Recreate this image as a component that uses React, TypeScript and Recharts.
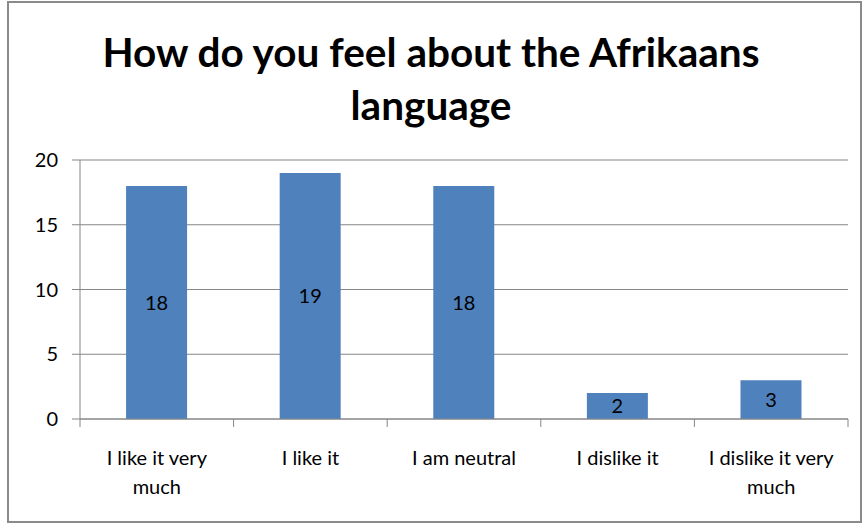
import React from 'react';
import { BarChart, Bar, XAxis, YAxis, CartesianGrid, LabelList } from 'recharts';

const categories = ['I like it very much', 'I like it', 'I am neutral', 'I dislike it', 'I dislike it very much'];
const responses = [18, 19, 18, 2, 3];
const yTicks = [0, 5, 10, 15, 20];
const titleLines = ['How do you feel about the Afrikaans', 'language'];

const data = categories.map((c, i) => ({ category: c, value: responses[i] }));

const FONT = 'Lato, "Open Sans", sans-serif';
const GRID = '#868686';

// wrap long labels: last word on its own line when the label is long
const wrapLabel = (s: string): string[] => {
  const w = s.split(' ');
  if (w.length > 4) return [w.slice(0, -1).join(' '), w[w.length - 1]];
  return [s];
};

const CategoryTick = (props: any) => {
  const { x, y, payload, index, visibleTicksCount, width } = props;
  const n = visibleTicksCount || categories.length;
  const off = payload && payload.offset ? payload.offset : width / n / 2;
  const lines = wrapLabel(String(payload.value));
  return (
    <g>
      <line x1={x - off} x2={x - off} y1={y} y2={y + 8} stroke={GRID} />
      {index === n - 1 && <line x1={x + off} x2={x + off} y1={y} y2={y + 8} stroke={GRID} />}
      <text x={x} y={y + 46} textAnchor="middle" fontSize={20} fontFamily={FONT} fill="#000">
        {lines.map((l, i) => (
          <tspan key={i} x={x} dy={i === 0 ? 0 : 29}>
            {l}
          </tspan>
        ))}
      </text>
    </g>
  );
};

export default function App() {
  return (
    <div style={{ position: 'absolute', left: 0, top: 0, width: 862, height: 524, background: '#fff', fontFamily: FONT }}>
      <div
        style={{
          position: 'absolute',
          left: 7,
          top: 1,
          width: 851,
          height: 518,
          border: '2px solid #8a8a8a',
        }}
      />
      <div
        style={{
          position: 'absolute',
          left: 0,
          top: 25,
          width: 862,
          textAlign: 'center',
          fontWeight: 700,
          fontSize: 40.5,
          lineHeight: '53px',
          color: '#000',
        }}
      >
        {titleLines.map((t) => (
          <div key={t}>{t}</div>
        ))}
      </div>
      <div style={{ position: 'absolute', left: 0, top: 0 }}>
        <BarChart
          width={862}
          height={524}
          data={data}
          margin={{ top: 160, right: 14, bottom: 0, left: 0 }}
          barCategoryGap="30%"
        >
          <CartesianGrid vertical={false} stroke={GRID} />
          <XAxis
            dataKey="category"
            interval={0}
            tickLine={false}
            tickSize={0}
            tickMargin={0}
            height={105}
            axisLine={{ stroke: GRID }}
            tick={<CategoryTick />}
          />
          <YAxis
            domain={[0, 20]}
            ticks={yTicks}
            width={80}
            tickSize={8}
            tickMargin={14}
            axisLine={{ stroke: GRID }}
            tickLine={{ stroke: GRID }}
            tick={{ fontSize: 20, fill: '#000', fontFamily: FONT }}
          />
          <Bar dataKey="value" fill="#4F81BD" isAnimationActive={false}>
            <LabelList dataKey="value" position="center" fontSize={20} fill="#000" fontFamily={FONT} />
          </Bar>
        </BarChart>
      </div>
    </div>
  );
}
